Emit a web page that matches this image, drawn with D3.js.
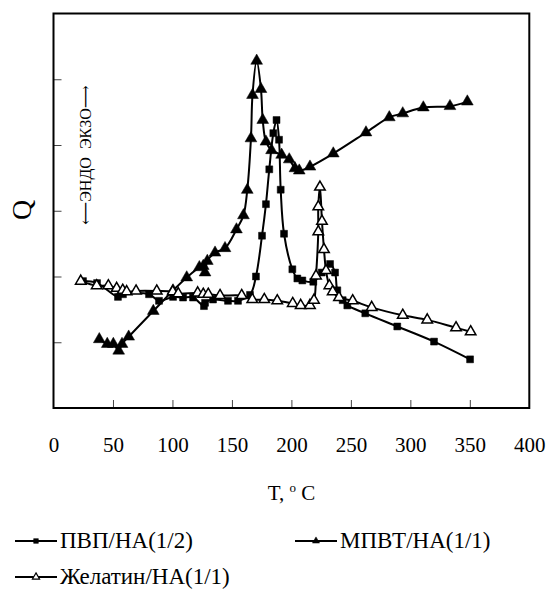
<!DOCTYPE html>
<html>
<head>
<meta charset="utf-8">
<script src="https://cdn.jsdelivr.net/npm/d3@7"></script>
<style>
  body { margin: 0; background: #fff; }
</style>
</head>
<body>
<div id="chart"></div>
<script>
// ---- data (T, Q) ----
var pvpT = [24.8, 36.6, 54.2, 58.4, 80.3, 88.7, 100.5, 108.9, 117.3, 126.5, 127.4, 134.1, 146.7, 155.1, 165.2, 170.2, 175.3, 178.6, 181.4, 184.8, 187.5, 189.6, 191, 193.8, 200.8, 205, 209.2, 218.4, 225.5, 232.5, 236.7, 238.6, 243.1, 247, 262.1, 289, 319.9, 350.2];
var pvpQ = [1.93, 1.90, 1.69, 1.73, 1.73, 1.63, 1.69, 1.68, 1.68, 1.55, 1.60, 1.65, 1.63, 1.63, 1.72, 2.00, 2.62, 3.10, 3.63, 4.18, 4.38, 4.08, 3.32, 2.65, 2.11, 1.97, 1.94, 1.92, 2.06, 2.19, 2.06, 1.79, 1.64, 1.56, 1.44, 1.24, 1.01, 0.74];

var mpvtT = [38.5, 45.2, 50.3, 54.8, 57.6, 63.2, 83.9, 100.5, 112, 122.6, 125.9, 127.4, 129.3, 135.8, 144.2, 153.8, 159.7, 162.9, 166, 167.3, 170.8, 174.4, 175.9, 178.6, 183.3, 191.8, 198.2, 203, 206.6, 215.6, 235.2, 262.7, 282.3, 293.6, 310.9, 333.3, 347.9];
var mpvtQ = [1.045, 0.973, 0.973, 0.871, 0.973, 1.084, 1.475, 1.787, 1.985, 2.14, 2.16, 2.06, 2.236, 2.362, 2.43, 2.715, 2.93, 3.316, 4.1, 4.76, 5.28, 4.85, 4.38, 4.05, 3.92, 3.85, 3.78, 3.645, 3.61, 3.67, 3.87, 4.19, 4.42, 4.48, 4.57, 4.59, 4.66];

var gelT = [22.9, 36.3, 46.1, 53.1, 58.2, 61.5, 69.4, 86.8, 100.2, 104.9, 121.2, 125.9, 130.1, 140, 158.2, 167.1, 177.2, 188.1, 201.1, 207.8, 215.6, 219, 220.7, 222.6, 222.6, 224, 225.7, 227.4, 229.1, 231.9, 234.7, 240, 251.5, 267.5, 293.6, 314.2, 338.4, 350.7];
var gelQ = [1.93, 1.86, 1.86, 1.82, 1.79, 1.77, 1.78, 1.78, 1.77, 1.74, 1.75, 1.73, 1.73, 1.71, 1.71, 1.65, 1.65, 1.63, 1.59, 1.56, 1.56, 1.64, 2.01, 2.68, 3.06, 3.36, 2.84, 2.41, 2.09, 1.86, 1.77, 1.68, 1.63, 1.53, 1.41, 1.34, 1.22, 1.16];

var xTicks = [0, 50, 100, 150, 200, 250, 300, 350, 400];
var yTicks = [1, 2, 3, 4, 5];
var seriesNames = ["ПВП/НА(1/2)", "МПВТ/НА(1/1)", "Желатин/НА(1/1)"];

var FONT = "'Liberation Serif', Tinos, 'Times New Roman', 'DejaVu Serif', serif";

var W = 550, H = 591;
var svg = d3.select("#chart").append("svg")
  .attr("width", W).attr("height", H)
  .attr("font-family", FONT);

var x = d3.scaleLinear().domain([0, 400]).range([53.5, 529.3]);
var y = d3.scaleLinear().domain([0, 6]).range([408, 13.5]);

//inner ticks
svg.append("g")
  .attr("transform", "translate(0,408)")
  .call(d3.axisTop(x).tickValues(xTicks.slice(1, -1)).tickSize(8).tickFormat(""))
  .call(function(g){ g.select(".domain").remove(); g.selectAll("line").attr("stroke", "#444"); });
svg.append("g")
  .attr("transform", "translate(53.5,0)")
  .call(d3.axisRight(y).tickValues(yTicks).tickSize(8).tickFormat(""))
  .call(function(g){ g.select(".domain").remove(); g.selectAll("line").attr("stroke", "#444"); });

//frame
svg.append("rect")
  .attr("x", x(0)).attr("y", y(6))
  .attr("width", x(400) - x(0)).attr("height", y(0) - y(6))
  .attr("fill", "none").attr("stroke", "#000").attr("stroke-width", 2);

//tick labels (below the frame, no tick lines)
svg.append("g")
  .attr("transform", "translate(0,437)")
  .call(d3.axisBottom(x).tickValues(xTicks).tickSize(0).tickPadding(0))
  .call(function(g){
    g.attr("font-family", FONT).attr("font-size", 21);
    g.select(".domain").remove();
    g.selectAll("text").attr("dy", "0.71em").attr("fill", "#000");
  });

//axis titles
var tl = svg.append("text").attr("x", x(200)).attr("y", 500).attr("text-anchor", "middle").attr("font-size", 21);
tl.append("tspan").text("T, ");
tl.append("tspan").attr("font-size", 13).attr("dy", -8).text("o");
tl.append("tspan").attr("dy", 8).text(" C");

svg.append("text")
  .attr("transform", "translate(31,210) rotate(-90)")
  .attr("text-anchor", "middle").attr("font-size", 28).text("Q");

svg.append("text")
  .attr("transform", "translate(91,155) rotate(-90)")
  .attr("text-anchor", "middle").attr("font-size", 16)
  .style("white-space", "pre")
  .text("\u27F5ЭНДО  ЭКЗО\u27F6");

//series
var line = d3.line()
  .x(function(d){ return x(d[0]); })
  .y(function(d){ return y(d[1]); })
  .curve(d3.curveCatmullRom.alpha(0.5));

function zip(a, b){ return a.map(function(v, i){ return [v, b[i]]; }); }

var series = [
  {name: seriesNames[0], data: zip(pvpT, pvpQ), sym: d3.symbolSquare, size: 48, fill: "#000"},
  {name: seriesNames[1], data: zip(mpvtT, mpvtQ), sym: d3.symbolTriangle, size: 60, fill: "#000"},
  {name: seriesNames[2], data: zip(gelT, gelQ), sym: d3.symbolTriangle, size: 48, fill: "#fff"}
];

series.forEach(function(s){
  svg.append("path")
    .attr("d", line(s.data))
    .attr("fill", "none").attr("stroke", "#000").attr("stroke-width", 2);
});
series.forEach(function(s){
  svg.append("g").selectAll("path")
    .data(s.data)
    .enter()
      .append("path")
      .attr("d", d3.symbol().type(s.sym).size(s.size))
      .attr("transform", function(d){ return "translate(" + x(d[0]) + "," + y(d[1]) + ")"; })
      .attr("fill", s.fill)
      .attr("stroke", "#000")
      .attr("stroke-width", s.fill == "#fff" ? 1.5 : 0.5);
});

//legend
var legPos = [[15, 541], [295, 541], [15, 577]];
series.forEach(function(s, i){
  var g = svg.append("g").attr("transform", "translate(" + legPos[i][0] + "," + legPos[i][1] + ")");
  g.append("line").attr("x1", 0).attr("x2", 42).attr("stroke", "#000").attr("stroke-width", 2);
  g.append("path")
    .attr("d", d3.symbol().type(s.sym).size(22))
    .attr("transform", "translate(21,0)")
    .attr("fill", s.fill).attr("stroke", "#000").attr("stroke-width", s.fill == "#fff" ? 1.2 : 0.5);
  g.append("text").attr("x", 45).attr("y", 7).attr("font-size", 23).text(s.name);
});
</script>
</body>
</html>
